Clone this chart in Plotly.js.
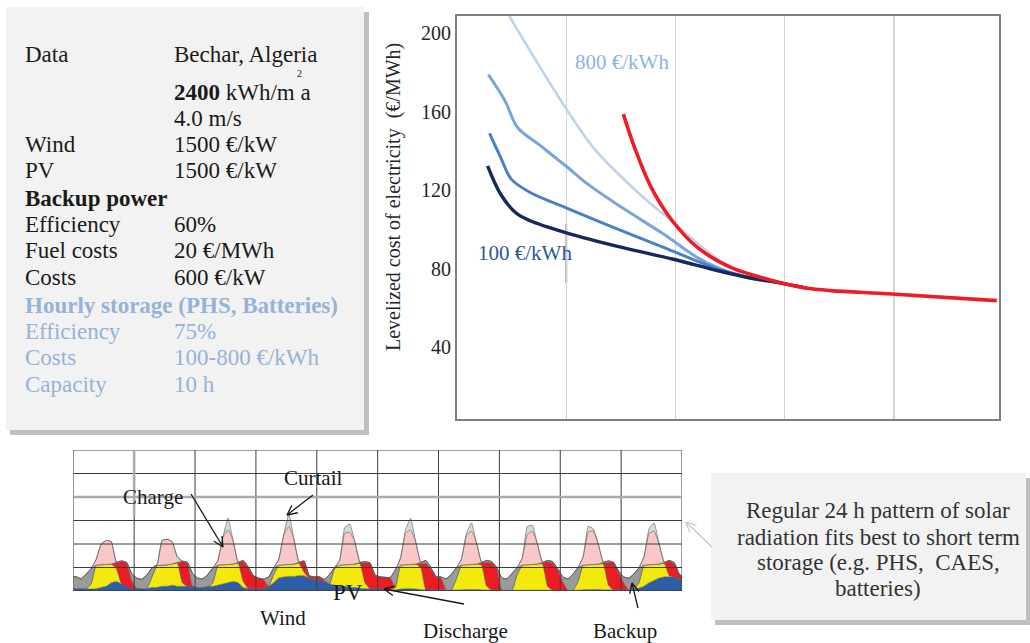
<!DOCTYPE html>
<html>
<head>
<meta charset="utf-8">
<script src="https://cdn.plot.ly/plotly-3.0.1.min.js"></script>
<style>
html,body{margin:0;padding:0;background:#ffffff;}
#chart{width:1030px;height:643px;}
</style>
</head>
<body>
<div id="chart"></div>
<script>
// ================= DATA =================
// Upper chart: levelized cost of electricity (EUR/MWh), one curve per hourly-storage cost
const xSto800 = [0.478,0.746,0.994,1.243,1.51,1.74,2.0,2.2,2.5,2.98,3.2];
const lcoeSto800 = [208.8,184,162,142,126.5,114.7,102.8,93,81,72.6,70.2];
const xStoHigh = [0.287,0.44,0.554,0.746,0.994,1.2,1.51,1.89,2.2,2.5,2.98,3.2];
const lcoeStoHigh = [179,165.5,152,143.5,132.5,123,111.2,97.7,85.8,78.2,72.6,70.2];
const xStoMid = [0.298,0.40,0.497,0.67,0.994,1.357,1.89,2.35,2.66,2.98,3.2];
const lcoeStoMid = [149,136.7,125.7,118.9,111.2,102.8,90.9,80.7,75.6,72.6,70.2];
const xSto100 = [0.28,0.40,0.535,0.67,0.994,1.51,1.97,2.39,2.66,2.98,3.2];
const lcoeSto100 = [132.5,118,108.7,104.5,98.5,90.9,85,79,75.6,72.6,70.2];
const xNoSto = [1.522,1.625,1.778,1.97,2.2,2.505,2.73,2.98,3.19,3.42,3.98,4.94];
const lcoeNoSto = [158.8,141.8,121.4,104.5,90.9,80.7,76.5,72.6,70.2,68.9,67.2,63.8];
const lcoeTicks = [40,80,120,160,200];
const curveLabels = ['800 €/kWh','100 €/kWh'];
const yTitle = 'Levelized cost of electricity  (€/MWh)';

// Lower chart: 10 days of hourly dispatch (values read every 2 h, plus both ends)
const hours = [0];
for (let d = 0; d < 10; d++) { for (let h = 1; h < 24; h += 2) hours.push(d * 24 + h); }
hours.push(240);

const wind = [0.10,
 .10,.10,.10,.08,.10,.15,.20,.35,.40,.30,.20,.12,
 .12,.10,.10,.15,.15,.20,.20,.25,.20,.20,.20,.20,
 .15,.15,.20,.20,.25,.30,.35,.40,.35,.15,.10,.10,
 .10,.10,.20,.35,.55,.60,.62,.62,.65,.65,.55,.50,
 .45,.40,.30,.25,.20,.20,.15,.15,.12,.10,.10,.10,
 .10,.08,.06,.05,.08,.10,.10,.08,.06,.05,.05,.05,
 .05,.05,.04,.04,.05,.06,.06,.06,.05,.04,.04,.04,
 .03,.03,.03,.03,.03,.03,.03,.03,.03,.03,.03,.03,
 .03,.03,.03,.03,.05,.06,.06,.06,.05,.05,.05,.05,
 .05,.05,.08,.12,.20,.35,.45,.55,.60,.60,.60,.50,
 .50];
const pv = [0,
 0,0,0,.22,1.0,.97,.93,.8,.55,0,0,0,
 0,0,0,.45,.93,.9,.92,.9,1.0,.15,0,0,
 0,0,0,.15,.85,.82,.78,.75,.83,.25,0,0,
 0,0,0,.35,.55,.52,.51,.53,.53,.15,0,0,
 0,0,0,.7,.9,.92,.98,1.0,1.06,.25,0,0,
 0,0,0,.1,1.02,1.02,1.03,1.07,.94,0,0,0,
 0,0,0,.46,1.05,1.06,1.07,1.09,1.05,.16,0,0,
 0,0,0,.67,1.07,1.09,1.1,1.12,1.12,.17,0,0,
 0,0,0,.37,1.05,1.06,1.07,1.09,1.1,.2,0,0,
 0,0,0,.23,.9,.77,.68,.6,.58,.05,0,0,
 0];
const discharge = [0,
 0,0,0,0,0,0,0,0,.25,.95,1.0,.33,
 0,0,0,0,0,0,0,0,0,.9,1.0,0,
 0,0,0,0,0,0,0,0,.02,.85,.9,.55,
 .45,.4,0,0,0,0,0,0,.02,.45,.1,.1,
 .15,.05,0,0,0,0,0,0,.02,.85,1.08,.55,
 .5,.5,.5,0,0,0,0,0,.18,1.13,.9,.55,
 .5,0,0,0,0,0,0,0,.1,1.02,1.16,.91,
 0,0,0,0,0,0,0,0,.05,1.05,1.17,.87,
 .37,0,0,0,0,0,0,0,.05,.97,1.15,.75,
 .3,0,0,0,0,0,0,0,.02,.63,.55,.2,
 .15];
const backup = [0.5,
 .52,.42,.62,.65,0,0,0,0,.02,.03,.02,.3,
 .43,.4,.58,.38,0,0,0,0,.02,.02,.02,.55,
 .4,.37,.5,.63,0,0,0,0,.02,.05,.02,0,
 0,0,.4,.28,0,0,0,0,.02,.03,0,0,
 0,.05,.4,.05,0,0,0,0,.02,.05,.02,.03,
 0,0,.02,.75,0,0,0,0,.04,.12,.05,.02,
 .05,.47,.66,.48,0,0,0,0,.02,.08,.05,.05,
 .52,.49,.72,.3,0,0,0,0,.02,.05,.05,.05,
 .2,.49,.69,.6,0,0,0,0,.02,.06,.02,.05,
 .25,.5,.64,.63,0,0,0,0,.02,.02,.05,0,
 0];
const charge = [0,
 0,0,0,0,.25,.88,1.02,.95,0,0,0,0,
 0,0,0,0,.04,1.05,1.08,.95,.23,0,0,0,
 0,0,0,0,.2,1.18,1.47,1.0,0,0,0,0,
 0,0,0,0,.25,1.28,1.62,1.05,0,0,0,0,
 0,0,0,0,.2,1.33,1.37,.95,0,0,0,0,
 0,0,0,0,.3,1.33,1.47,.95,0,0,0,0,
 0,0,0,0,.25,1.23,1.42,.9,0,0,0,0,
 0,0,0,0,.3,1.28,1.42,.85,0,0,0,0,
 0,0,0,0,.35,1.38,1.42,.85,0,0,0,0,
 0,0,0,0,.35,1.33,1.42,.85,0,0,0,0,
 0];
const curtail = [0,
 0,0,0,0,0,0,0,0,0,0,0,0,
 0,0,0,0,0,0,0,0,0,0,0,0,
 0,0,0,0,0,0,.5,0,0,0,0,0,
 0,0,0,0,0,0,.55,0,0,0,0,0,
 0,0,0,0,0,.25,.35,0,0,0,0,0,
 0,0,0,0,0,.15,.5,0,0,0,0,0,
 0,0,0,0,0,.1,.35,0,0,0,0,0,
 0,0,0,0,0,.35,.25,0,0,0,0,0,
 0,0,0,0,0,.25,.1,0,0,0,0,0,
 0,0,0,0,0,.2,.35,0,0,0,0,0,
 0];

// Info panel text
const infoLabels = ['Data','','','Wind','PV','<b>Backup power</b>','Efficiency','Fuel costs','Costs',
  '<b>Hourly storage (PHS, Batteries)</b>','Efficiency','Costs','Capacity'];
const infoValues = ['Bechar, Algeria','<b>2400</b> kWh/m a','4.0 m/s','1500 €/kW','1500 €/kW','',
  '60%','20 €/MWh','600 €/kW','','75%','100-800 €/kWh','10 h'];
const unitExponent = '2';
const noteLines = ['Regular 24 h pattern of solar','radiation fits best to short term',
  'storage (e.g. PHS,  CAES,','batteries)'];

// ================= LAYOUT HELPERS =================
const W = 1030, H = 643;
const FONT = 'Liberation Serif, Times New Roman, serif';
const px = v => v / W, py = v => 1 - v / H;
const infoRowY = [54,92.5,118.5,145,170.5,198,224,250.5,277,305,331.5,357,384];
const infoColor = (i) => i >= 9 ? '#95b3d7' : '#1a1a1a';

// ================= TRACES =================
const mainLine = (x, y, color, width, name) => ({
  type:'scatter', mode:'lines', x:x, y:y, name:name, xaxis:'x', yaxis:'y',
  line:{color:color, width:width, shape:'spline', smoothing:1}, hoverinfo:'skip'
});
const traces = [
  mainLine(xSto800, lcoeSto800, '#bcd5ef', 2.6, 'Storage 800 €/kWh'),
  mainLine(xStoHigh, lcoeStoHigh, '#78a6da', 3, 'Storage (higher cost)'),
  mainLine(xStoMid, lcoeStoMid, '#4a80c6', 3, 'Storage (medium cost)'),
  mainLine(xSto100, lcoeSto100, '#16295b', 3.4, 'Storage 100 €/kWh'),
  mainLine(xNoSto, lcoeNoSto, '#ee1c25', 3.6, 'No storage')
];

const stackSeries = [
  ['Wind', wind, '#2f5ea8'],
  ['PV', pv, '#f3e90c'],
  ['Discharge', discharge, '#ec1c24'],
  ['Backup', backup, '#9a9a9a'],
  ['Charge', charge, '#f8c8c9'],
  ['Curtail', curtail, '#d9d9d9']
];
stackSeries.forEach(([name, vals, col]) => {
  traces.push({
    type:'scatter', mode:'lines', x:hours, y:vals, name:name, xaxis:'x2', yaxis:'y2',
    stackgroup:'dispatch', fillcolor:col,
    line:{color:'#5a5a5a', width:0.6, shape:'spline', smoothing:0.35}, hoverinfo:'skip'
  });
});

// ================= SHAPES =================
const shapes = [];
shapes.push({type:'rect', xref:'paper', yref:'paper', x0:px(10), x1:px(369), y0:py(12), y1:py(435),
  fillcolor:'rgba(0,0,0,0.25)', line:{width:0}, layer:'below'});
shapes.push({type:'rect', xref:'paper', yref:'paper', x0:px(6), x1:px(364), y0:py(7), y1:py(430),
  fillcolor:'#f2f2f2', line:{width:0}, layer:'below'});
shapes.push({type:'rect', xref:'paper', yref:'paper', x0:px(715), x1:px(1030), y0:py(478), y1:py(625),
  fillcolor:'rgba(0,0,0,0.25)', line:{width:0}, layer:'below'});
shapes.push({type:'rect', xref:'paper', yref:'paper', x0:px(711), x1:px(1026), y0:py(473), y1:py(620),
  fillcolor:'#f2f2f2', line:{width:0}, layer:'below'});
for (let d = 0; d <= 240; d += 24) {
  shapes.push({type:'line', xref:'x2', yref:'y2', x0:d, x1:d, y0:0, y1:6,
    line:{color:'#3c3c3c', width:1}, layer:'above'});
}
for (let k = 0; k <= 6; k++) {
  shapes.push({type:'line', xref:'x2', yref:'y2', x0:0, x1:240, y0:k, y1:k,
    line:{color: k === 4 ? '#ababab' : '#3c3c3c', width: k === 4 ? 2.5 : (k === 0 ? 1.4 : 1)}, layer:'above'});
}
shapes.push({type:'line', xref:'x2', yref:'y2', x0:24, x1:24, y0:3.2, y1:6,
  line:{color:'#ababab', width:2.5}, layer:'above'});
shapes.push({type:'line', xref:'x', yref:'y', x0:1, x1:1, y0:73, y1:103,
  line:{color:'#a8a8a8', width:2}, layer:'below'});

// pointer arrows: a shaft plus two short barbs at the head (pixel geometry -> paper)
const arrow = (hx, hy, tx, ty, col, w) => {
  const ang = Math.atan2(ty - hy, tx - hx), len = 11, spread = 0.45;
  const seg = (x0, y0, x1, y1) => shapes.push({type:'line', xref:'paper', yref:'paper',
    x0:px(x0), y0:py(y0), x1:px(x1), y1:py(y1), line:{color:col, width:w}, layer:'above'});
  seg(tx, ty, hx, hy);
  seg(hx, hy, hx + len * Math.cos(ang + spread), hy + len * Math.sin(ang + spread));
  seg(hx, hy, hx + len * Math.cos(ang - spread), hy + len * Math.sin(ang - spread));
};
arrow(223, 547, 191, 494, '#1a1a1a', 1.3);
arrow(287, 515, 313, 495, '#1a1a1a', 1.3);
arrow(384, 589, 464, 604, '#1a1a1a', 1.3);
arrow(632, 583, 638, 608, '#1a1a1a', 1.3);
arrow(686, 522, 712, 547, '#c6c6c6', 1.2);

// ================= ANNOTATIONS =================
const ann = [];
infoLabels.forEach((t, i) => {
  if (t) ann.push({xref:'paper', yref:'paper', x:px(23), y:py(infoRowY[i]), xanchor:'left', yanchor:'middle',
    text:t, showarrow:false, font:{family:FONT, size:23, color:infoColor(i)}});
});
infoValues.forEach((t, i) => {
  if (t) ann.push({xref:'paper', yref:'paper', x:px(172), y:py(infoRowY[i]), xanchor:'left', yanchor:'middle',
    text:t, showarrow:false, font:{family:FONT, size:23, color:infoColor(i)}});
});
ann.push({xref:'paper', yref:'paper', x:px(299), y:py(73.3), xanchor:'center', yanchor:'middle',
  text:unitExponent, showarrow:false, font:{family:FONT, size:10, color:'#1a1a1a'}});
ann.push({xref:'paper', yref:'paper', x:px(394), y:py(197), xanchor:'center', yanchor:'middle',
  text:yTitle, textangle:-90, showarrow:false, font:{family:FONT, size:20, color:'#262626'}});
ann.push({xref:'paper', yref:'paper', x:px(622), y:py(62), xanchor:'center', yanchor:'middle',
  text:curveLabels[0], showarrow:false, font:{family:FONT, size:21, color:'#8db3e2'}});
ann.push({xref:'paper', yref:'paper', x:px(525), y:py(253), xanchor:'center', yanchor:'middle',
  text:curveLabels[1], showarrow:false, font:{family:FONT, size:21, color:'#2c5896'}});
noteLines.forEach((t, i) => {
  ann.push({xref:'paper', yref:'paper', x:px(878), y:py([510,537,562,588][i]), xanchor:'center', yanchor:'middle',
    text:t, showarrow:false, font:{family:FONT, size:23, color:'#333333'}});
});
const lbl = (t, x, y, size) => ann.push({xref:'paper', yref:'paper', x:px(x), y:py(y), xanchor:'center', yanchor:'middle',
  text:t, showarrow:false, font:{family:FONT, size:size, color:'#1a1a1a'}});
lbl('Charge', 153, 497, 21);
lbl('Curtail', 313, 478, 21);
lbl('PV', 348, 592, 23);
lbl('Wind', 283, 618, 21);
lbl('Discharge', 465, 631, 21);
lbl('Backup', 625, 631, 21);

// ================= LAYOUT =================
const layout = {
  width:W, height:H, autosize:false,
  margin:{l:0, r:0, t:0, b:0},
  paper_bgcolor:'#ffffff', plot_bgcolor:'rgba(0,0,0,0)',
  showlegend:false,
  font:{family:FONT, color:'#262626'},
  xaxis:{domain:[px(457), px(999)], range:[0,4.96], anchor:'y',
    showgrid:true, tick0:0, dtick:1, gridcolor:'#d2d2d2', gridwidth:1.3,
    showticklabels:false, ticks:'', zeroline:false,
    showline:true, mirror:true, linecolor:'#7f7f7f', linewidth:2},
  yaxis:{domain:[py(419), py(16)], range:[3.5,208.8], anchor:'x',
    tickvals:lcoeTicks, ticks:'', showgrid:false, zeroline:false,
    showline:true, mirror:true, linecolor:'#7f7f7f', linewidth:2,
    tickfont:{family:FONT, size:20, color:'#262626'}},
  xaxis2:{domain:[px(73.3), px(682)], range:[0,240], anchor:'y2',
    showgrid:false, showticklabels:false, ticks:'', zeroline:false, showline:false},
  yaxis2:{domain:[py(591), py(450)], range:[0,6], anchor:'x2',
    showgrid:false, showticklabels:false, ticks:'', zeroline:false, showline:false},
  shapes:shapes,
  annotations:ann
};

Plotly.newPlot('chart', traces, layout, {staticPlot:true, displayModeBar:false});
</script>
</body>
</html>
